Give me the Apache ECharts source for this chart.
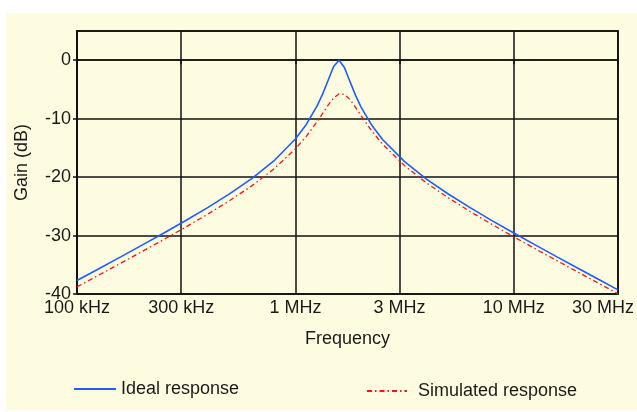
<!DOCTYPE html>
<html>
<head>
<meta charset="utf-8">
<script src="https://cdn.jsdelivr.net/npm/echarts@6/dist/echarts.min.js"></script>
<style>
  html, body { margin: 0; padding: 0; background: #fff; }
  #chart { position: absolute; left: 6px; top: 13px; width: 631px; height: 397px; }
</style>
</head>
<body>
<div id="chart"></div>
<script>
// frequency points (Hz)
const freqs = [100000, 125893, 158489, 199526, 251189, 316228, 398107, 501187, 630957, 794328,
  1000000, 1122018, 1258925, 1333521, 1412538, 1496236, 1584893, 1678804, 1778279, 1883649,
  1995262, 2238721, 2511886, 3162278, 3981072, 5011872, 6309573, 7943282,
  10000000, 12589254, 15848932, 19952623, 25118864, 30000000];

// gain in dB
const idealGain = [-37.69, -35.67, -33.64, -31.59, -29.51, -27.38, -25.17, -22.83, -20.26, -17.28,
  -13.48, -10.99, -7.77, -5.76, -3.42, -1.08, 0.00, -1.30, -3.67, -5.98,
  -7.97, -11.14, -13.60, -17.36, -20.33, -22.89, -25.23, -27.44,
  -29.56, -31.64, -33.69, -35.72, -37.74, -39.29];

const simGain = [-38.78, -36.77, -34.74, -32.69, -30.62, -28.50, -26.31, -24.00, -21.50, -18.65,
  -15.17, -13.02, -10.50, -9.11, -7.70, -6.47, -5.75, -5.85, -6.73, -8.03,
  -9.45, -12.12, -14.39, -18.04, -20.99, -23.55, -25.88, -28.09,
  -30.22, -32.30, -34.35, -36.38, -38.40, -39.95];

const xTickValues = [100000, 300000, 1000000, 3000000, 10000000, 30000000];
const xTickLabels = ['100 kHz', '300 kHz', '1 MHz', '3 MHz', '10 MHz', '30 MHz'];

const seriesNames = ['Ideal response', 'Simulated response'];

const font = "'Liberation Sans', Arial, sans-serif";
const textCol = '#1a1a1a';

var chart = echarts.init(document.getElementById('chart'));

function pairs(ys) {
  return freqs.map((f, i) => [f, ys[i]]);
}

const option = {
  animation: false,
  backgroundColor: '#fdfce0',
  textStyle: { fontFamily: font },
  grid: {
    left: 71, top: 18, right: 19, bottom: 116,
    outerBoundsMode: 'none',
    containLabel: false,
    show: true,
    borderColor: '#333',
    borderWidth: 2,
    backgroundColor: 'transparent'
  },
  legend: [
    {
      data: [seriesNames[0]],
      left: 67, top: 367,
      padding: 0,
      itemWidth: 42, itemHeight: 14,
      itemStyle: { opacity: 0 },
      textStyle: { fontSize: 18, color: textCol, fontFamily: font }
    },
    {
      data: [seriesNames[1]],
      left: 360, top: 369,
      padding: 0,
      itemWidth: 40, itemHeight: 14,
      itemStyle: { opacity: 0 },
      textStyle: { fontSize: 18, color: textCol, fontFamily: font, padding: [0, 0, 0, 6] }
    }
  ],
  xAxis: {
    type: 'log',
    min: 100000,
    max: 30000000,
    name: 'Frequency',
    nameLocation: 'middle',
    nameGap: 36,
    nameTextStyle: { fontSize: 18, color: textCol, fontFamily: font },
    axisLine: { show: true, lineStyle: { color: '#111', width: 1.5 } },
    axisTick: { show: true, inside: false, length: 4, customValues: xTickValues, lineStyle: { color: '#111', width: 1.5 } },
    minorTick: { show: false },
    axisLabel: {
      customValues: xTickValues,
      fontSize: 18, color: textCol, margin: 5,
      formatter: function (v) {
        const i = xTickValues.findIndex(t => Math.abs(t - v) / t < 1e-6);
        if (i < 0) return '';
        // last label is pulled back so it stays inside the frame
        return i === xTickValues.length - 1 ? '{last|' + xTickLabels[i] + '}' : xTickLabels[i];
      },
      rich: {
        last: { fontSize: 18, color: textCol, fontFamily: font, padding: [0, 30, 0, 0] }
      }
    },
    splitLine: { show: true, lineStyle: { color: '#111', width: 1.5 } }
  },
  yAxis: {
    type: 'value',
    min: -40,
    max: 5,
    interval: 10,
    name: 'Gain (dB)',
    nameLocation: 'middle',
    nameGap: 46,
    nameTextStyle: { fontSize: 18, color: textCol, fontFamily: font },
    axisLine: { show: true, lineStyle: { color: '#111', width: 1.5 } },
    axisTick: { show: true, length: 4, lineStyle: { color: '#111', width: 1.5 } },
    axisLabel: { fontSize: 18, color: textCol, margin: 6, showMaxLabel: false },
    splitLine: { show: true, lineStyle: { color: '#111', width: 1.5 } }
  },
  series: [
    {
      name: seriesNames[0],
      type: 'line',
      symbol: 'none',
      data: pairs(idealGain),
      itemStyle: { color: '#1f5cff' },
      lineStyle: { color: '#1f5cff', width: 1.6 },
      z: 4
    },
    {
      name: seriesNames[1],
      type: 'line',
      symbol: 'none',
      data: pairs(simGain),
      itemStyle: { color: '#ff1010' },
      lineStyle: { color: '#ff1010', width: 1.3, type: [5, 3, 1.5, 3] },
      z: 3
    }
  ]
};

option && chart.setOption(option);
</script>
</body>
</html>
